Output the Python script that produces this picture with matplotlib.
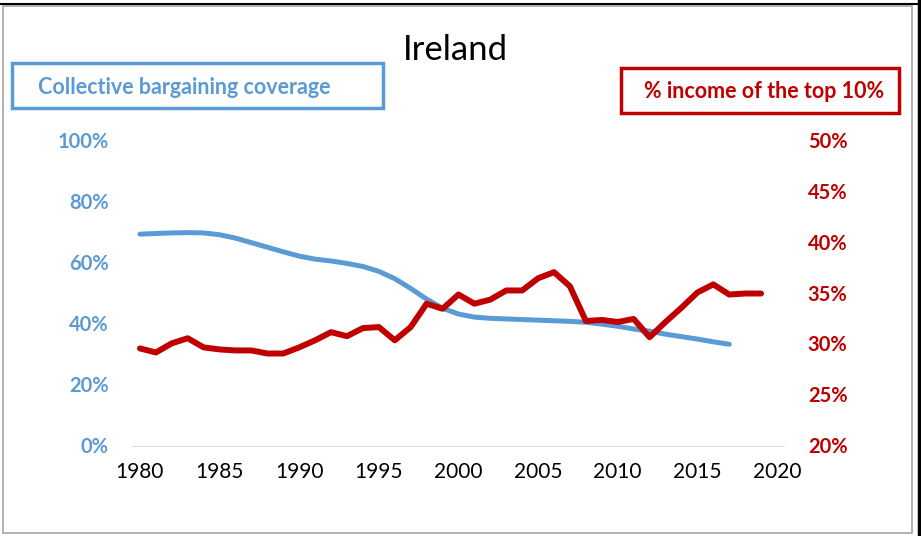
import numpy as np
import matplotlib.pyplot as plt
from matplotlib.patches import Rectangle

plt.rcParams['font.family'] = ['Lato', 'DejaVu Sans']

# Collective bargaining coverage (left axis)
years_cb = np.arange(1980, 2018)
coverage = [69.8, 70.0, 70.2, 70.3, 70.2, 69.6, 68.5, 67.0, 65.5, 64.0,
            62.6, 61.6, 61.0, 60.2, 59.2, 57.6, 55.2, 52.0, 48.5, 45.5,
            43.6, 42.6, 42.2, 42.0, 41.8, 41.6, 41.4, 41.2, 40.9, 40.3,
            39.6, 38.7, 38.0, 37.0, 36.2, 35.4, 34.5, 33.7]

# income share of the top 10% (right axis)
years_top = np.arange(1980, 2020)
top10 = [29.7, 29.3, 30.2, 30.7, 29.8, 29.6, 29.5, 29.5, 29.2, 29.2,
         29.8, 30.5, 31.3, 30.9, 31.7, 31.8, 30.5, 31.8, 34.1, 33.6,
         35.0, 34.1, 34.5, 35.4, 35.4, 36.6, 37.2, 35.8, 32.4, 32.5,
         32.3, 32.6, 30.8, 32.3, 33.7, 35.2, 36.0, 35.0, 35.1, 35.1]

left_ticks = [0, 20, 40, 60, 80, 100]
right_ticks = [20, 25, 30, 35, 40, 45, 50]
x_ticks = [1980, 1985, 1990, 1995, 2000, 2005, 2010, 2015, 2020]

blue = '#5B9BD5'
red = '#C00000'

fig = plt.figure(figsize=(9.21, 5.36), dpi=100)
ax = fig.add_axes([0.1433, 0.166, 0.709, 0.569])
ax2 = ax.twinx()

ax.plot(years_cb, np.array(coverage) / 100, color=blue, lw=3.6,
        solid_joinstyle='round', solid_capstyle='round')
ax2.plot(years_top, np.array(top10) / 100, color=red, lw=4.3,
         solid_joinstyle='round', solid_capstyle='round')

ax.set_xlim(1979.5, 2020.5)
ax.set_ylim(0, 1)
ax2.set_ylim(0.2, 0.5)
ax.set_xticks(x_ticks, labels=[str(y) for y in x_ticks])
ax.tick_params(axis='x', length=0, pad=11, labelsize=15)

# y tick labels written as bold text at the tick values
ax.set_yticks([v / 100 for v in left_ticks], labels=[])
ax2.set_yticks([v / 100 for v in right_ticks], labels=[])
ax.tick_params(axis='y', length=0)
ax2.tick_params(axis='y', length=0)
for v in left_ticks:
    ax.text(-0.036, v / 100, f'{v}%', transform=ax.get_yaxis_transform(),
            ha='right', va='center', fontsize=14.5, fontweight='bold',
            color=blue)
for v in right_ticks:
    ax2.text(1.035, v / 100, f'{v}%', transform=ax2.get_yaxis_transform(),
             ha='left', va='center', fontsize=14.5, fontweight='bold',
             color=red)

for a in (ax, ax2):
    for s in a.spines.values():
        s.set_visible(False)
ax.axhline(0, color='#d9d9d9', lw=1.3, zorder=0)

fig.text(0.495, 0.907, 'Ireland', ha='center', va='center', fontsize=25)

# legend boxes
fig.patches.append(Rectangle((12/921, 1-108/536), 371/921, 45/536,
                             transform=fig.transFigure, fill=False,
                             ec=blue, lw=2.5))
fig.text(184/921, 1-87/536, 'Collective bargaining coverage', ha='center',
         va='center', fontsize=15.5, fontweight='bold', color=blue)
fig.patches.append(Rectangle((621/921, 1-113/536), 278/921, 45/536,
                             transform=fig.transFigure, fill=False,
                             ec=red, lw=2.5))
fig.text(764/921, 1-92/536, '% income of the top 10%', ha='center',
         va='center', fontsize=15.5, fontweight='bold', color=red)

# chart frame
fig.patches.append(Rectangle((3/921, 3/536), 909/921, 527/536,
                             transform=fig.transFigure, fill=False,
                             ec='#a6a6a6', lw=1.2))
fig.lines.append(plt.Line2D([0, 1], [1-4/536, 1-4/536],
                            transform=fig.transFigure, color='black', lw=1.5))
fig.lines.append(plt.Line2D([1-2/921, 1-2/921], [0, 1],
                            transform=fig.transFigure, color='black', lw=2.5))

fig.savefig('out.png', dpi=100)
